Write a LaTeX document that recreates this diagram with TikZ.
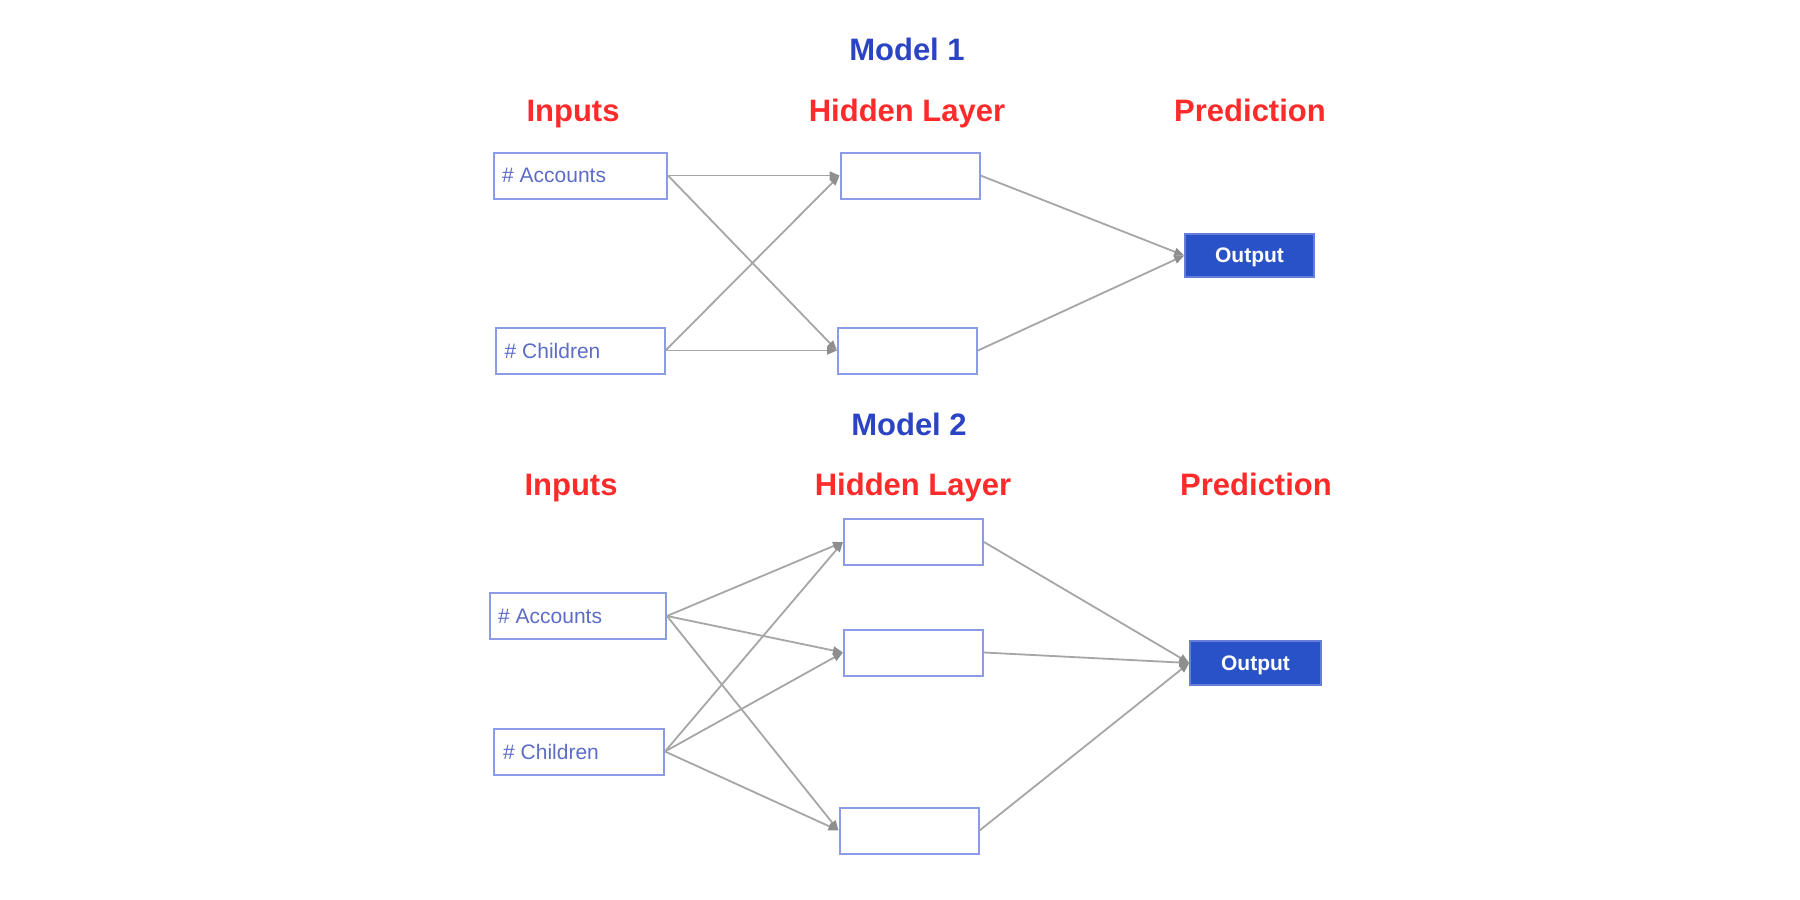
\documentclass[tikz,border=0pt]{standalone}
\usepackage{fontspec}
\setmainfont{Liberation Sans}
\usetikzlibrary{arrows.meta}
\definecolor{headred}{HTML}{FF2A2A}
\definecolor{titleblue}{HTML}{2B44C4}
\definecolor{boxline}{HTML}{8C9BE6}
\definecolor{boxtext}{HTML}{5C6CC8}
\definecolor{outfill}{HTML}{2A52C8}
\definecolor{linkgray}{HTML}{A6A6A6}
\definecolor{tipgray}{HTML}{8E8E8E}
\tikzset{
  title/.style={font=\fontsize{31}{36}\selectfont\bfseries, text=titleblue, inner sep=0pt, anchor=base},
  head/.style={font=\fontsize{31}{36}\selectfont\bfseries, text=headred, inner sep=0pt, anchor=base},
  inbox/.style={draw=boxline, line width=2pt, fill=white, minimum height=46pt, inner sep=0pt},
  hidbox/.style={draw=boxline, line width=2pt, fill=white, minimum width=139pt, minimum height=46pt, inner sep=0pt},
  outbox/.style={draw=boxline!60!outfill, line width=1.5pt, fill=outfill, text=white, font=\fontsize{21}{24}\selectfont\bfseries, inner sep=0pt, text depth=0pt},
  intext/.style={anchor=west, text=boxtext, font=\fontsize{21}{24}\selectfont, inner sep=0pt, text depth=0pt},
  link/.style={draw=linkgray, line width=1.8pt, -{Triangle[length=10pt,width=8pt,color=tipgray]}},
}
\begin{document}
\begin{tikzpicture}[x=1pt,y=-1pt]
\useasboundingbox[fill=white] (0,0) rectangle (1800,900);

% ---------- Model 1 ----------
\node[title] (t1) at (907,60) {Model 1};
\node[head] (in1) at (573,121) {Inputs};
\node[head] (hl1) at (907,121) {Hidden Layer};
\node[head] (pr1) at (1250,121) {Prediction};

\node[inbox, minimum width=173pt] (acc1) at (580.5,175.5) {};
\node[intext] (acc1t) at ([xshift=9pt]acc1.west) {\# Accounts};
\node[inbox, minimum width=169pt] (chi1) at (580,350.5) {};
\node[intext] (chi1t) at ([xshift=10pt]chi1.west) {\# Children};

\node[hidbox] (h11) at (910,175.5) {};
\node[hidbox] (h12) at (907.5,350.5) {};

\node[outbox, minimum width=129pt, minimum height=43pt] (out1) at (1249.5,255.5) {Output};

\draw[link] (acc1.east) -- (h11.west);
\draw[link] (acc1.east) -- (h12.west);
\draw[link] (chi1.east) -- (h11.west);
\draw[link] (chi1.east) -- (h12.west);
\draw[link] (h11.east) -- (out1.west);
\draw[link] (h12.east) -- (out1.west);

% ---------- Model 2 ----------
\node[title] (t2) at (909,435) {Model 2};
\node[head] (in2) at (571,495) {Inputs};
\node[head] (hl2) at (913,495) {Hidden Layer};
\node[head] (pr2) at (1256,495) {Prediction};

\node[inbox, minimum width=176pt] (acc2) at (578,616) {};
\node[intext] (acc2t) at ([xshift=9pt]acc2.west) {\# Accounts};
\node[inbox, minimum width=170pt] (chi2) at (579,751.5) {};
\node[intext] (chi2t) at ([xshift=10pt]chi2.west) {\# Children};

\node[hidbox] (h21) at (913.5,542) {};
\node[hidbox] (h22) at (913.5,652.5) {};
\node[hidbox] (h23) at (909,830.5) {};

\node[outbox, minimum width=131pt, minimum height=44pt] (out2) at (1255.5,663) {Output};

\draw[link] (acc2.east) -- (h21.west);
\draw[link] (acc2.east) -- (h22.west);
\draw[link] (acc2.east) -- (h23.west);
\draw[link] (chi2.east) -- (h21.west);
\draw[link] (chi2.east) -- (h22.west);
\draw[link] (chi2.east) -- (h23.west);
\draw[link] (h21.east) -- (out2.west);
\draw[link] (h22.east) -- (out2.west);
\draw[link] (h23.east) -- (out2.west);
\end{tikzpicture}
\end{document}
